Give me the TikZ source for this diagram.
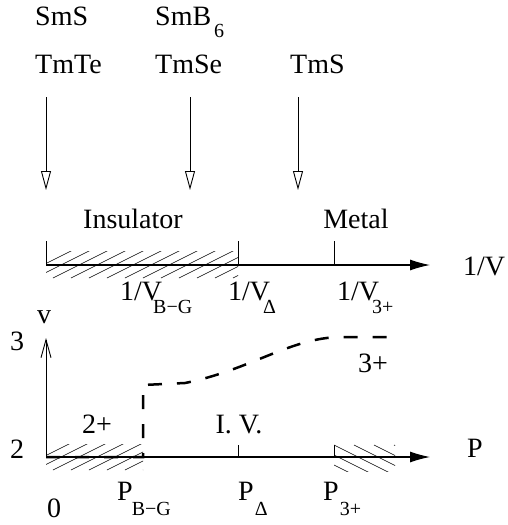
\documentclass[tikz,border=0pt]{standalone}
\usepackage{fontspec}
\setmainfont{Liberation Serif}
\usetikzlibrary{arrows.meta}
\newcommand{\lowsub}[2][12pt]{\raisebox{-#1}{\fontsize{20}{20}\selectfont#2}}

\begin{document}
\begin{tikzpicture}[
    x=1pt,
    y=-1pt,
    every node/.style={font=\fontsize{28}{28}\selectfont,inner sep=0pt},
    lbl/.style={anchor=base west},
    clbl/.style={anchor=base},
    axis/.style={line width=1.1pt,-{Latex[length=20pt,width=11pt]}},
    drop/.style={line width=0.9pt,-{Triangle[open,length=19pt,width=10pt]}},
    tick/.style={line width=0.9pt},
    hatch/.style={line width=0.6pt},
    valence/.style={line width=2.5pt,dash pattern=on 14pt off 15pt}
  ]
    \useasboundingbox (0,0) rectangle (508,525);

    % Compounds and where they sit on the 1/V scale.
    \node[lbl] (sms) at (35,25) {SmS};
    \node[lbl] (smb) at (155,25) {SmB\kern3pt\lowsub{6}};
    \node[lbl] (tmte) at (35,73) {TmTe};
    \node[lbl] (tmse) at (155,73) {TmSe};
    \node[lbl] (tms) at (290,73) {TmS};
    \foreach \name/\xx in {tmte/46,tmse/190,tms/298}{%
      \coordinate (\name top) at (\xx,97);
      \coordinate (\name tip) at (\xx,190);
      \draw[drop] (\name top) -- (\name tip);
    }

    % Upper axis, 1/V.
    \coordinate (uorig) at (46,265);
    \coordinate (uend) at (430,265);
    \begin{scope}
      \clip (46,251) rectangle (238,279);
      \foreach \hx in {17,35,...,251}
        \draw[hatch] (\hx,278) -- ++(60,-30);
    \end{scope}
    \draw[axis] (uorig) -- (uend);
    \foreach \name/\xx in {ubg/46,udelta/238,uthree/334}{%
      \coordinate (\name) at (\xx,265);
      \draw[tick] (\name) -- ++(0,-24);
    }
    \node[clbl] (insul) at (133,228) {Insulator};
    \node[clbl] (metal) at (356,228) {Metal};
    \node[lbl] (invv) at (463,275) {1/V};
    \node[lbl] (vbg) at (120,300) {1/V\kern-9pt\lowsub[13pt]{B−G}};
    \node[lbl] (vdelta) at (228,300) {1/V\kern-7pt\lowsub[13pt]{Δ}};
    \node[lbl] (vthree) at (337,300) {1/V\kern-7pt\lowsub[13pt]{3+}};

    % Lower axes, valence v against pressure P.
    \coordinate (lorig) at (46,457);
    \coordinate (vtop) at (46,338);
    \coordinate (lend) at (430,457);
    \begin{scope}
      \clip (46,444) rectangle (143,471);
      \foreach \hx in {17,35,...,161}
        \draw[hatch] (\hx,470) -- ++(60,-30);
    \end{scope}
    \begin{scope}
      \clip (334,444) rectangle (395,471);
      \foreach \hx in {274,294,...,394}
        \draw[hatch] (\hx,445) -- ++(60,30);
    \end{scope}
    \draw[hatch] (334,445) -- (334,457);
    \draw[axis] (lorig) -- (lend);
    \draw[line width=0.9pt,-{Straight Barb[length=18pt,width=10pt]}] (lorig) -- (vtop);
    \coordinate (pdelta) at (238,457);
    \draw[tick] (pdelta) -- ++(0,-12);

    \draw[valence] (lorig) -- (143,457) -- (143,385) -- (185,383)
      .. controls (250,370) and (290,338) .. (340,337) -- (395,337);

    \node[lbl] (vlab) at (37,323) {v};
    \node[lbl] (three) at (10,350) {3};
    \node[lbl] (two) at (10,458) {2};
    \node[clbl] (twoplus) at (97,433) {2+};
    \node[clbl] (iv) at (239,433) {I. V.};
    \node[lbl] (threeplus) at (358,372) {3+};
    \node[lbl] (plab) at (467,457) {P};
    \node[lbl] (zero) at (47,517) {0};
    \node[lbl] (pbg) at (117,500) {P\kern-1pt\lowsub[15pt]{B−G}};
    \node[lbl] (pdel) at (238,500) {P\kern1pt\lowsub[15pt]{Δ}};
    \node[lbl] (pthree) at (323,500) {P\kern1pt\lowsub[15pt]{3+}};
  \end{tikzpicture}
\end{document}
